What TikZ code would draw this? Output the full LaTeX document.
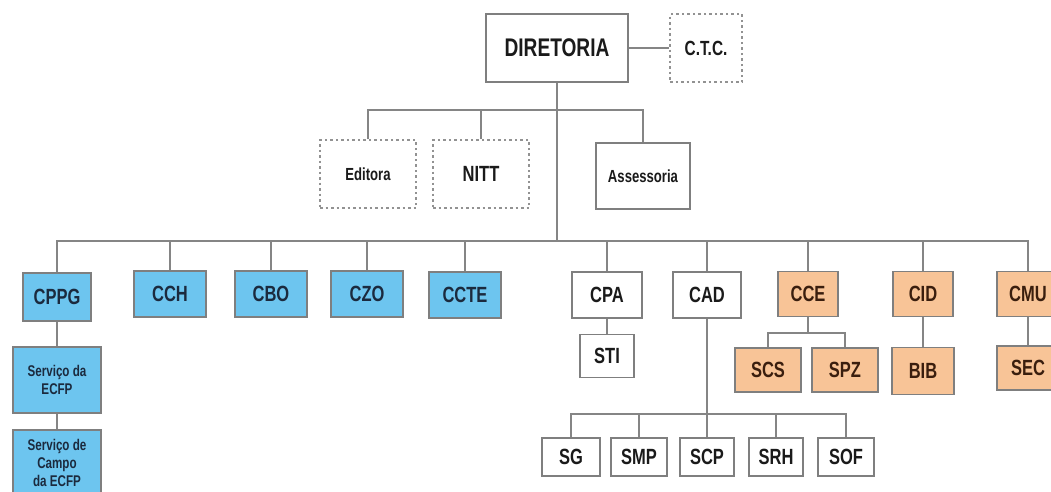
\documentclass[tikz,border=0pt]{standalone}
\usepackage{fontspec}
\setmainfont{Liberation Sans}[FakeStretch=0.75]
\definecolor{bluefill}{HTML}{6DC5EF}
\definecolor{bluetext}{HTML}{1B2A3E}
\definecolor{orangefill}{HTML}{F8C497}
\definecolor{orangetext}{HTML}{3A1E0E}
\definecolor{boxline}{HTML}{7F7F7F}
\definecolor{connline}{HTML}{858585}
\definecolor{plaintext}{HTML}{1A1A1A}
\tikzset{
  box/.style={draw=boxline, line width=1.6pt, inner sep=0pt, align=center,
    font=\bfseries\fontsize{22}{24}\selectfont, text=plaintext},
  whitebox/.style={box, fill=white},
  bluebox/.style={box, fill=bluefill, text=bluetext},
  orangebox/.style={box, fill=orangefill, text=orangetext},
  dashbox/.style={box, draw=boxline!85, dash pattern=on 2.5pt off 3pt},
  smalltext/.style={font=\bfseries\fontsize{17.5}{20}\selectfont},
  servtext/.style={font=\bfseries\fontsize{15.5}{18}\selectfont},
  conn/.style={draw=connline, line width=1.8pt},
}
\begin{document}
\begin{tikzpicture}[x=1pt,y=-1pt]
\useasboundingbox[fill=white] (0,0) rectangle (1051,491);
% bus coordinates
\coordinate (ub) at (0,110);
\coordinate (mb) at (0,241);
\coordinate (cceb) at (0,333);
\coordinate (cadb) at (0,414);
% top level
\node[whitebox, minimum width=142, minimum height=68, font=\bfseries\fontsize{25.5}{28}\selectfont] (dir) at (557,48) {DIRETORIA};
\node[dashbox, font=\bfseries\fontsize{20.5}{23}\selectfont, minimum width=72, minimum height=68] (ctc) at (706,48) {C.T.C.};
\node[dashbox, smalltext, minimum width=96, minimum height=68] (edit) at (368,174) {Editora};
\node[dashbox, minimum width=96, minimum height=68] (nitt) at (481,174) {NITT};
\node[whitebox, smalltext, minimum width=94, minimum height=66] (assess) at (643,176) {Assessoria};
% second level
\node[bluebox, minimum width=68, minimum height=48] (cppg) at (57,297) {CPPG};
\node[bluebox, minimum width=72, minimum height=46] (cch) at (170,294) {CCH};
\node[bluebox, minimum width=72, minimum height=46] (cbo) at (271,294) {CBO};
\node[bluebox, minimum width=72, minimum height=46] (czo) at (367,294) {CZO};
\node[bluebox, minimum width=72, minimum height=46] (ccte) at (465,295) {CCTE};
\node[whitebox, minimum width=70, minimum height=46] (cpa) at (607,295) {CPA};
\node[whitebox, minimum width=68, minimum height=46] (cad) at (707,295) {CAD};
\node[orangebox, minimum width=60, minimum height=45] (cce) at (808,294) {CCE};
\node[orangebox, minimum width=60, minimum height=45] (cid) at (923,294) {CID};
\node[orangebox, minimum width=62, minimum height=45] (cmu) at (1028,294) {CMU};
% third level
\node[bluebox, servtext, minimum width=88, minimum height=66] (secfp) at (57,380) {Serviço da\\ECFP};
\node[bluebox, servtext, minimum width=88, minimum height=66] (scecfp) at (57,463) {Serviço de\\Campo\\da ECFP};
\node[whitebox, minimum width=54, minimum height=43] (sti) at (607,356) {STI};
\node[orangebox, minimum width=66, minimum height=44] (scs) at (768,370) {SCS};
\node[orangebox, minimum width=66, minimum height=44] (spz) at (845,370) {SPZ};
\node[orangebox, minimum width=62, minimum height=47] (bib) at (923,371) {BIB};
\node[orangebox, minimum width=62, minimum height=44] (sec) at (1028,368) {SEC};
% CAD services
\node[whitebox, minimum width=58, minimum height=38] (sg) at (571,457) {SG};
\node[whitebox, minimum width=56, minimum height=38] (smp) at (639,457) {SMP};
\node[whitebox, minimum width=54, minimum height=38] (scp) at (707,457) {SCP};
\node[whitebox, minimum width=54, minimum height=38] (srh) at (776,457) {SRH};
\node[whitebox, minimum width=56, minimum height=38] (sof) at (846,457) {SOF};
% connectors
\draw[conn] (dir.east) -- (ctc.west);
\draw[conn] (dir.south) -- (dir.south |- mb);
\draw[conn] (edit.north) |- (assess.north |- ub) -- (assess.north);
\draw[conn] (nitt.north) -- (nitt.north |- ub);
\draw[conn] (cppg.north) |- (cmu.north |- mb) -- (cmu.north);
\foreach \n in {cch,cbo,czo,ccte,cpa,cad,cce,cid}
  \draw[conn] (\n.north) -- (\n.north |- mb);
\draw[conn] (cppg.south) -- (secfp.north);
\draw[conn] (secfp.south) -- (scecfp.north);
\draw[conn] (cpa.south) -- (sti.north);
\draw[conn] (cce.south) -- (cce.south |- cceb);
\draw[conn] (scs.north) |- (spz.north |- cceb) -- (spz.north);
\draw[conn] (cid.south) -- (bib.north);
\draw[conn] (cmu.south) -- (sec.north);
\draw[conn] (cad.south) -- (scp.north);
\draw[conn] (sg.north) |- (sof.north |- cadb) -- (sof.north);
\foreach \n in {smp,srh}
  \draw[conn] (\n.north) -- (\n.north |- cadb);
\end{tikzpicture}
\end{document}
